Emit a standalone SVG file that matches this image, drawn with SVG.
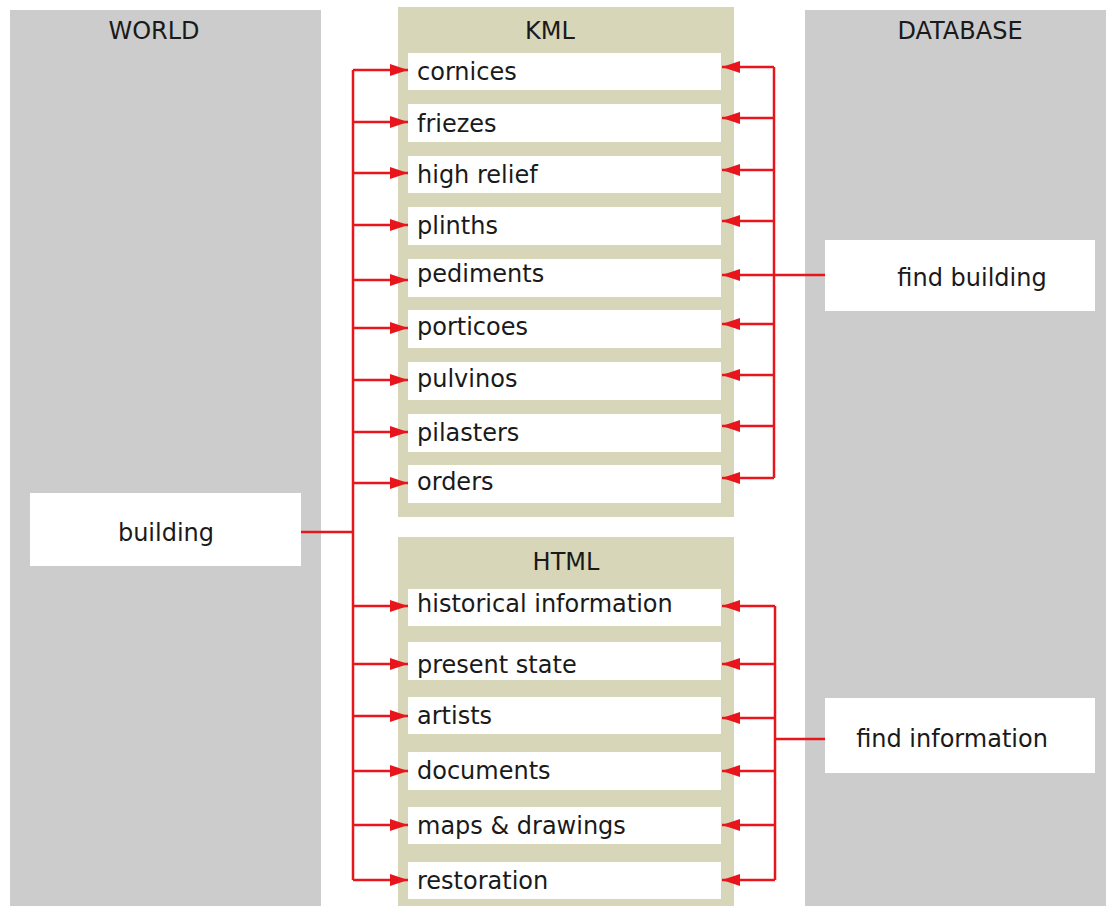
<svg xmlns="http://www.w3.org/2000/svg" width="1106" height="906" viewBox="0 0 1106 906">
<defs>
<style>
.panel{fill:#cccccc}
.kpanel{fill:#d7d6b9}
.box{fill:#ffffff}
.t{font-family:"DejaVu Sans",Verdana,sans-serif;font-size:24px;fill:#1a1a1a}
.h{font-family:"DejaVu Sans",Verdana,sans-serif;font-size:24px;fill:#1a1a1a;text-anchor:middle}
.c{text-anchor:middle}
.wire{stroke:#e8161c;stroke-width:2.5;fill:none}
</style>
<marker id="ah" viewBox="0 0 18 12" refX="18" refY="6" markerWidth="18" markerHeight="12" markerUnits="userSpaceOnUse" orient="auto">
<path d="M0,0 L18,6 L0,12 Z" fill="#e8161c"/>
</marker>
</defs>
<rect width="1106" height="906" fill="#ffffff"/>

<g id="world">
<rect class="panel" x="10" y="10" width="311" height="896"/>
<text class="h" x="154" y="39">WORLD</text>
</g>
<g id="database">
<rect class="panel" x="805" y="10" width="301" height="896"/>
<text class="h" x="960" y="39">DATABASE</text>
</g>
<g id="kml">
<rect class="kpanel" x="398" y="7" width="336" height="510"/>
<text class="h" x="550" y="39">KML</text>
</g>
<g id="html">
<rect class="kpanel" x="398" y="537" width="336" height="369"/>
<text class="h" x="566" y="570">HTML</text>
</g>

<g id="building">
<rect class="box" x="30" y="493" width="271" height="73"/>
<text class="t c" x="166" y="541">building</text>
</g>
<g id="find-building">
<rect class="box" x="825" y="240" width="270" height="71"/>
<text class="t c" x="972" y="286">find building</text>
</g>
<g id="find-information">
<rect class="box" x="825" y="698" width="270" height="75"/>
<text class="t c" x="952" y="747">find information</text>
</g>

<g id="cornices"><rect class="box" x="408" y="53" width="313" height="37"/><text class="t" x="417" y="80">cornices</text></g>
<g id="friezes"><rect class="box" x="408" y="104" width="313" height="38"/><text class="t" x="417" y="132">friezes</text></g>
<g id="high-relief"><rect class="box" x="408" y="156" width="313" height="37"/><text class="t" x="417" y="183">high relief</text></g>
<g id="plinths"><rect class="box" x="408" y="207" width="313" height="38"/><text class="t" x="417" y="234">plinths</text></g>
<g id="pediments"><rect class="box" x="408" y="259" width="313" height="38"/><text class="t" x="417" y="282">pediments</text></g>
<g id="porticoes"><rect class="box" x="408" y="310" width="313" height="38"/><text class="t" x="417" y="335">porticoes</text></g>
<g id="pulvinos"><rect class="box" x="408" y="362" width="313" height="38"/><text class="t" x="417" y="387">pulvinos</text></g>
<g id="pilasters"><rect class="box" x="408" y="414" width="313" height="38"/><text class="t" x="417" y="441">pilasters</text></g>
<g id="orders"><rect class="box" x="408" y="465" width="313" height="38"/><text class="t" x="417" y="490">orders</text></g>

<g id="historical-information"><rect class="box" x="408" y="589" width="313" height="37"/><text class="t" x="417" y="612">historical information</text></g>
<g id="present-state"><rect class="box" x="408" y="642" width="313" height="38"/><text class="t" x="417" y="673">present state</text></g>
<g id="artists"><rect class="box" x="408" y="697" width="313" height="37"/><text class="t" x="417" y="724">artists</text></g>
<g id="documents"><rect class="box" x="408" y="752" width="313" height="38"/><text class="t" x="417" y="779">documents</text></g>
<g id="maps-drawings"><rect class="box" x="408" y="807" width="313" height="37"/><text class="t" x="417" y="834">maps &amp; drawings</text></g>
<g id="restoration"><rect class="box" x="408" y="862" width="313" height="37"/><text class="t" x="417" y="889">restoration</text></g>

<g id="connectors">
<path class="wire" d="M301,532 H353 M353,70 V880"/>
<path class="wire" marker-end="url(#ah)" d="M353,70 H408"/>
<path class="wire" marker-end="url(#ah)" d="M353,122 H408"/>
<path class="wire" marker-end="url(#ah)" d="M353,173 H408"/>
<path class="wire" marker-end="url(#ah)" d="M353,225 H408"/>
<path class="wire" marker-end="url(#ah)" d="M353,280 H408"/>
<path class="wire" marker-end="url(#ah)" d="M353,328 H408"/>
<path class="wire" marker-end="url(#ah)" d="M353,380 H408"/>
<path class="wire" marker-end="url(#ah)" d="M353,432 H408"/>
<path class="wire" marker-end="url(#ah)" d="M353,483 H408"/>
<path class="wire" marker-end="url(#ah)" d="M353,606 H408"/>
<path class="wire" marker-end="url(#ah)" d="M353,664 H408"/>
<path class="wire" marker-end="url(#ah)" d="M353,716 H408"/>
<path class="wire" marker-end="url(#ah)" d="M353,771 H408"/>
<path class="wire" marker-end="url(#ah)" d="M353,825 H408"/>
<path class="wire" marker-end="url(#ah)" d="M353,880 H408"/>

<path class="wire" d="M774,67 V478"/>
<path class="wire" marker-end="url(#ah)" d="M825,275 H722"/>
<path class="wire" marker-end="url(#ah)" d="M774,67 H722"/>
<path class="wire" marker-end="url(#ah)" d="M774,118 H722"/>
<path class="wire" marker-end="url(#ah)" d="M774,170 H722"/>
<path class="wire" marker-end="url(#ah)" d="M774,221 H722"/>
<path class="wire" marker-end="url(#ah)" d="M774,324 H722"/>
<path class="wire" marker-end="url(#ah)" d="M774,375 H722"/>
<path class="wire" marker-end="url(#ah)" d="M774,426 H722"/>
<path class="wire" marker-end="url(#ah)" d="M774,478 H722"/>

<path class="wire" d="M775,606 V880 M825,739 H775"/>
<path class="wire" marker-end="url(#ah)" d="M775,606 H722"/>
<path class="wire" marker-end="url(#ah)" d="M775,664 H722"/>
<path class="wire" marker-end="url(#ah)" d="M775,718 H722"/>
<path class="wire" marker-end="url(#ah)" d="M775,771 H722"/>
<path class="wire" marker-end="url(#ah)" d="M775,825 H722"/>
<path class="wire" marker-end="url(#ah)" d="M775,880 H722"/>
</g>
</svg>
